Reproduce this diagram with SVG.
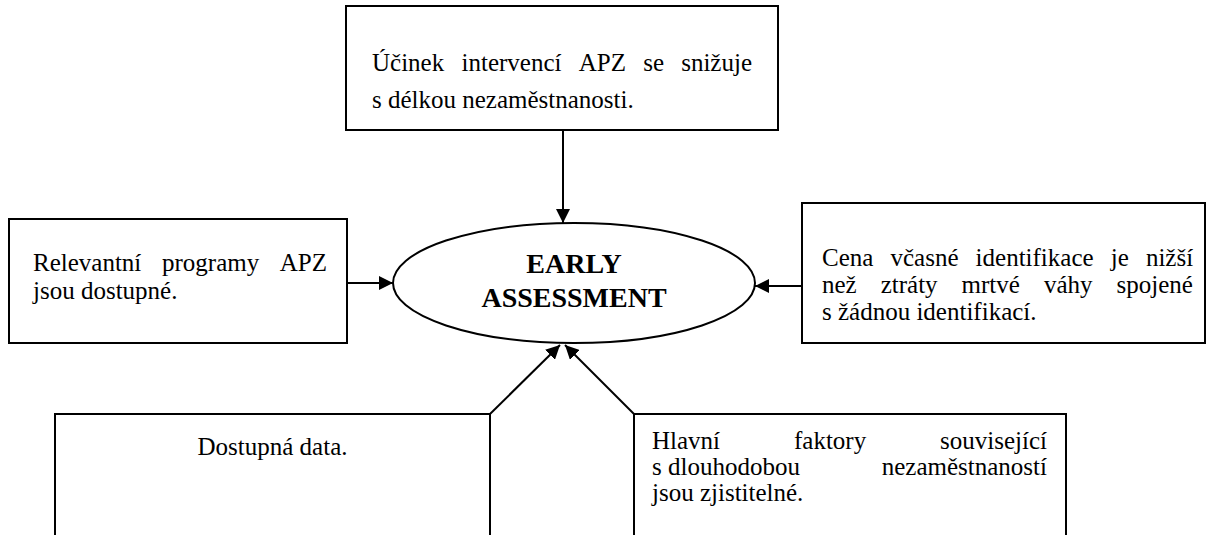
<svg xmlns="http://www.w3.org/2000/svg" width="1208" height="535" viewBox="0 0 1208 535">
<style>
.box{fill:#fff;stroke:#000;stroke-width:2}
.t{font-family:"Liberation Serif","Times New Roman",serif;font-size:25px;fill:#000}
.b{font-family:"Liberation Serif","Times New Roman",serif;font-size:28px;font-weight:bold;fill:#000;text-anchor:middle}
.c{fill:none;stroke:#000;stroke-width:2}
</style>
<defs>
<marker id="ah" viewBox="0 0 14 14" refX="14" refY="7" markerWidth="14" markerHeight="14" markerUnits="userSpaceOnUse" orient="auto">
<path d="M0,0 L14,7 L0,14 z" fill="#000"/>
</marker>
</defs>
<rect width="1208" height="535" fill="#fff"/>
<g id="connectors">
<path class="c" d="M563,130 L563,223" marker-end="url(#ah)"/>
<path class="c" d="M347,283 L393,283" marker-end="url(#ah)"/>
<path class="c" d="M802,286 L755,286" marker-end="url(#ah)"/>
<path class="c" d="M490,414 L560,345" marker-end="url(#ah)"/>
<path class="c" d="M634,414 L565,345" marker-end="url(#ah)"/>
</g>
<g id="center">
<ellipse cx="574" cy="283" rx="181" ry="60" fill="#fff" stroke="#000" stroke-width="2"/>
<text class="b" x="574" y="273">EARLY</text>
<text class="b" x="574" y="307">ASSESSMENT</text>
</g>
<g id="top">
<rect class="box" x="346" y="6" width="432" height="124"/>
<text class="t" y="71"><tspan x="372">Účinek</tspan> <tspan x="461.5">intervencí</tspan> <tspan x="578.7">APZ</tspan> <tspan x="643.2">se</tspan> <tspan x="681.2">snižuje</tspan></text>
<text class="t" x="372" y="108">s délkou nezaměstnanosti.</text>
</g>
<g id="left">
<rect class="box" x="9" y="219" width="338" height="124"/>
<text class="t" y="271"><tspan x="33">Relevantní</tspan> <tspan x="162">programy</tspan> <tspan x="279.8">APZ</tspan></text>
<text class="t" x="33" y="299">jsou dostupné.</text>
</g>
<g id="right">
<rect class="box" x="802" y="203" width="403" height="140"/>
<text class="t" y="266"><tspan x="822">Cena</tspan> <tspan x="890.5">včasné</tspan> <tspan x="975.6">identifikace</tspan> <tspan x="1110.7">je</tspan> <tspan x="1145.9">nižší</tspan></text>
<text class="t" y="293"><tspan x="822">než</tspan> <tspan x="880.7">ztráty</tspan> <tspan x="961.6">mrtvé</tspan> <tspan x="1043.9">váhy</tspan> <tspan x="1116.5">spojené</tspan></text>
<text class="t" x="822" y="320">s žádnou identifikací.</text>
</g>
<g id="bottom-left">
<rect class="box" x="55" y="414" width="435" height="160"/>
<text class="t" x="272.5" y="455" text-anchor="middle">Dostupná data.</text>
</g>
<g id="bottom-right">
<rect class="box" x="634" y="414" width="432" height="160"/>
<text class="t" y="449"><tspan x="652">Hlavní</tspan> <tspan x="794">faktory</tspan> <tspan x="940.1">související</tspan></text>
<text class="t" y="475"><tspan x="652">s dlouhodobou</tspan> <tspan x="881.7">nezaměstnaností</tspan></text>
<text class="t" x="652" y="501">jsou zjistitelné.</text>
</g>
</svg>
